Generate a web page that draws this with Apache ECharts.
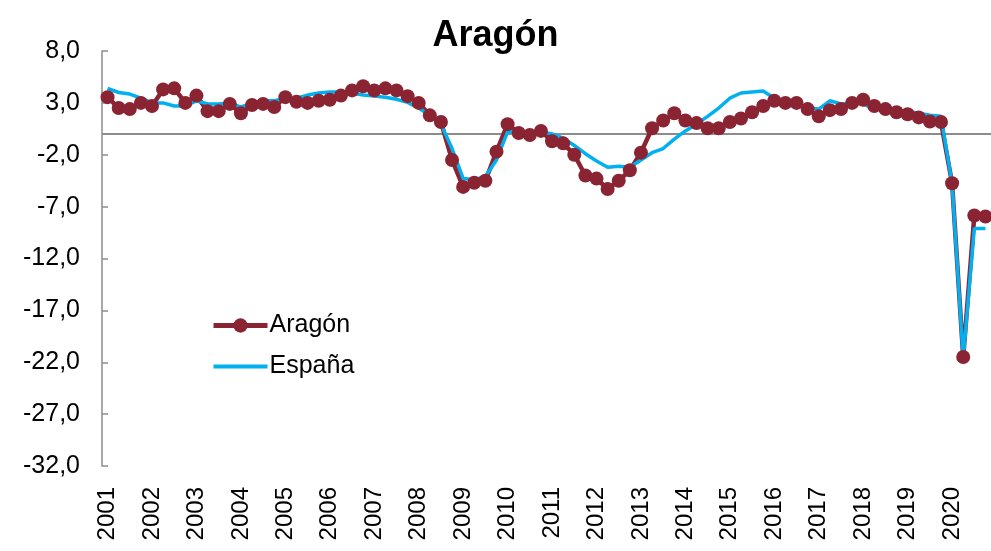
<!DOCTYPE html>
<html>
<head>
    <meta charset="utf-8">
    <title>Aragón</title>
    <script src="https://cdn.jsdelivr.net/npm/echarts@6/dist/echarts.min.js"></script>
    <style>
        html, body { margin: 0; padding: 0; background: #fff; }
        #chart { width: 991px; height: 551px; }
    </style>
</head>
<body>
<div id="chart"></div>
<script>
    // años y trimestres
    var years = ['2001', '2002', '2003', '2004', '2005', '2006', '2007', '2008', '2009', '2010',
        '2011', '2012', '2013', '2014', '2015', '2016', '2017', '2018', '2019', '2020'];
    var quarters = ['T1', 'T2', 'T3', 'T4'];
    var categories = [];
    years.forEach(function (y) {
        quarters.forEach(function (q) { categories.push(y + '-' + q); });
    });

    var yTicks = [8, 3, -2, -7, -12, -17, -22, -27, -32];

    var aragon = [
        3.55, 2.5, 2.4, 3.0, 2.7, 4.3, 4.4, 3.0,
        3.7, 2.2, 2.2, 2.9, 2.0, 2.8, 2.9, 2.6,
        3.55, 3.1, 3.0, 3.2, 3.3, 3.7, 4.2, 4.6,
        4.2, 4.4, 4.2, 3.65, 3.0, 1.8, 1.15, -2.5,
        -5.1, -4.7, -4.5, -1.7, 0.95, 0.1, -0.1, 0.3,
        -0.7, -0.9, -2.0, -4.0, -4.3, -5.3, -4.5, -3.5,
        -1.8, 0.55, 1.3, 2.0, 1.3, 1.05, 0.55, 0.55,
        1.15, 1.5, 2.1, 2.7, 3.2, 3.0, 3.0, 2.4,
        1.7, 2.3, 2.4, 3.0, 3.3, 2.7, 2.4, 2.1,
        1.9, 1.6, 1.2, 1.15, -4.75, -21.5, -7.85, -7.95
    ];

    var espana = [
        4.4, 4.0, 3.85, 3.45, 3.0, 3.0, 2.7, 2.7,
        3.2, 2.9, 2.9, 3.0, 2.6, 3.0, 3.2, 3.2,
        3.45, 3.45, 3.75, 3.95, 4.05, 4.05, 3.95, 3.75,
        3.65, 3.55, 3.35, 3.05, 2.5, 1.8, 0.95, -1.4,
        -4.3, -4.4, -4.1, -2.5, 0.2, 0.3, 0.1, 0.2,
        0.0, -0.4, -1.1, -1.9, -2.6, -3.2, -3.1, -3.2,
        -2.5, -1.8, -1.4, -0.5, 0.3, 0.95, 1.7, 2.5,
        3.45, 3.95, 4.05, 4.15, 3.45, 3.0, 2.9, 2.5,
        2.4, 3.2, 2.9, 3.0, 2.9, 2.4, 2.3, 2.3,
        2.2, 2.0, 1.8, 1.7, -4.8, -21.6, -9.1, -9.1
    ];

    var font = 'Liberation Sans, Arial, sans-serif';
    var chart = echarts.init(document.getElementById('chart'));

    var option = {
        animation: false,
        title: {
            text: 'Aragón',
            left: 'center',
            top: 13,
            textStyle: { fontFamily: font, fontSize: 36, fontWeight: 'bold', color: '#000' }
        },
        legend: {
            orient: 'vertical',
            left: 206,
            top: 308,
            itemWidth: 54,
            itemHeight: 18,
            itemGap: 16,
            textStyle: { fontFamily: font, fontSize: 25, color: '#000', padding: [0, 0, 0, -3] },
            data: [
                { name: 'Aragón', lineStyle: { width: 5 } },
                { name: 'España', lineStyle: { width: 4 }, itemStyle: { opacity: 0 } }
            ]
        },
        grid: { left: 102, right: -6, top: 51, bottom: 85, containLabel: false },
        xAxis: {
            type: 'category',
            data: categories,
            boundaryGap: true,
            axisLine: { show: false },
            axisTick: { show: false },
            axisLabel: {
                interval: 3,
                rotate: 90,
                margin: 21,
                fontFamily: font,
                fontSize: 24,
                color: '#000',
                formatter: function (v) { return v.split('-')[0]; }
            }
        },
        yAxis: {
            type: 'value',
            min: yTicks[yTicks.length - 1],
            max: yTicks[0],
            interval: 5,
            axisLine: { show: true, lineStyle: { color: '#8c8c8c', width: 1.5 } },
            axisTick: { show: true, inside: true, length: 6, lineStyle: { color: '#8c8c8c', width: 1.5 } },
            splitLine: { show: false },
            axisLabel: {
                margin: 22,
                fontFamily: font,
                fontSize: 25,
                color: '#000',
                formatter: function (v) { return v.toFixed(1).replace('.', ','); }
            }
        },
        series: [
            {
                name: 'Aragón',
                type: 'line',
                data: aragon,
                symbol: 'circle',
                symbolSize: 14,
                showAllSymbol: true,
                itemStyle: { color: '#8a2432' },
                lineStyle: { color: '#8a2432', width: 4.5 },
                markLine: {
                    silent: true,
                    symbol: 'none',
                    label: { show: false },
                    lineStyle: { color: '#8c8c8c', width: 2, type: 'solid' },
                    data: [{ yAxis: 0 }],
                    z: 1
                }
            },
            {
                name: 'España',
                type: 'line',
                data: espana,
                symbol: 'none',
                itemStyle: { color: '#00b0f0' },
                lineStyle: { color: '#00b0f0', width: 3.5 }
            }
        ]
    };

    chart.setOption(option);
</script>
</body>
</html>
